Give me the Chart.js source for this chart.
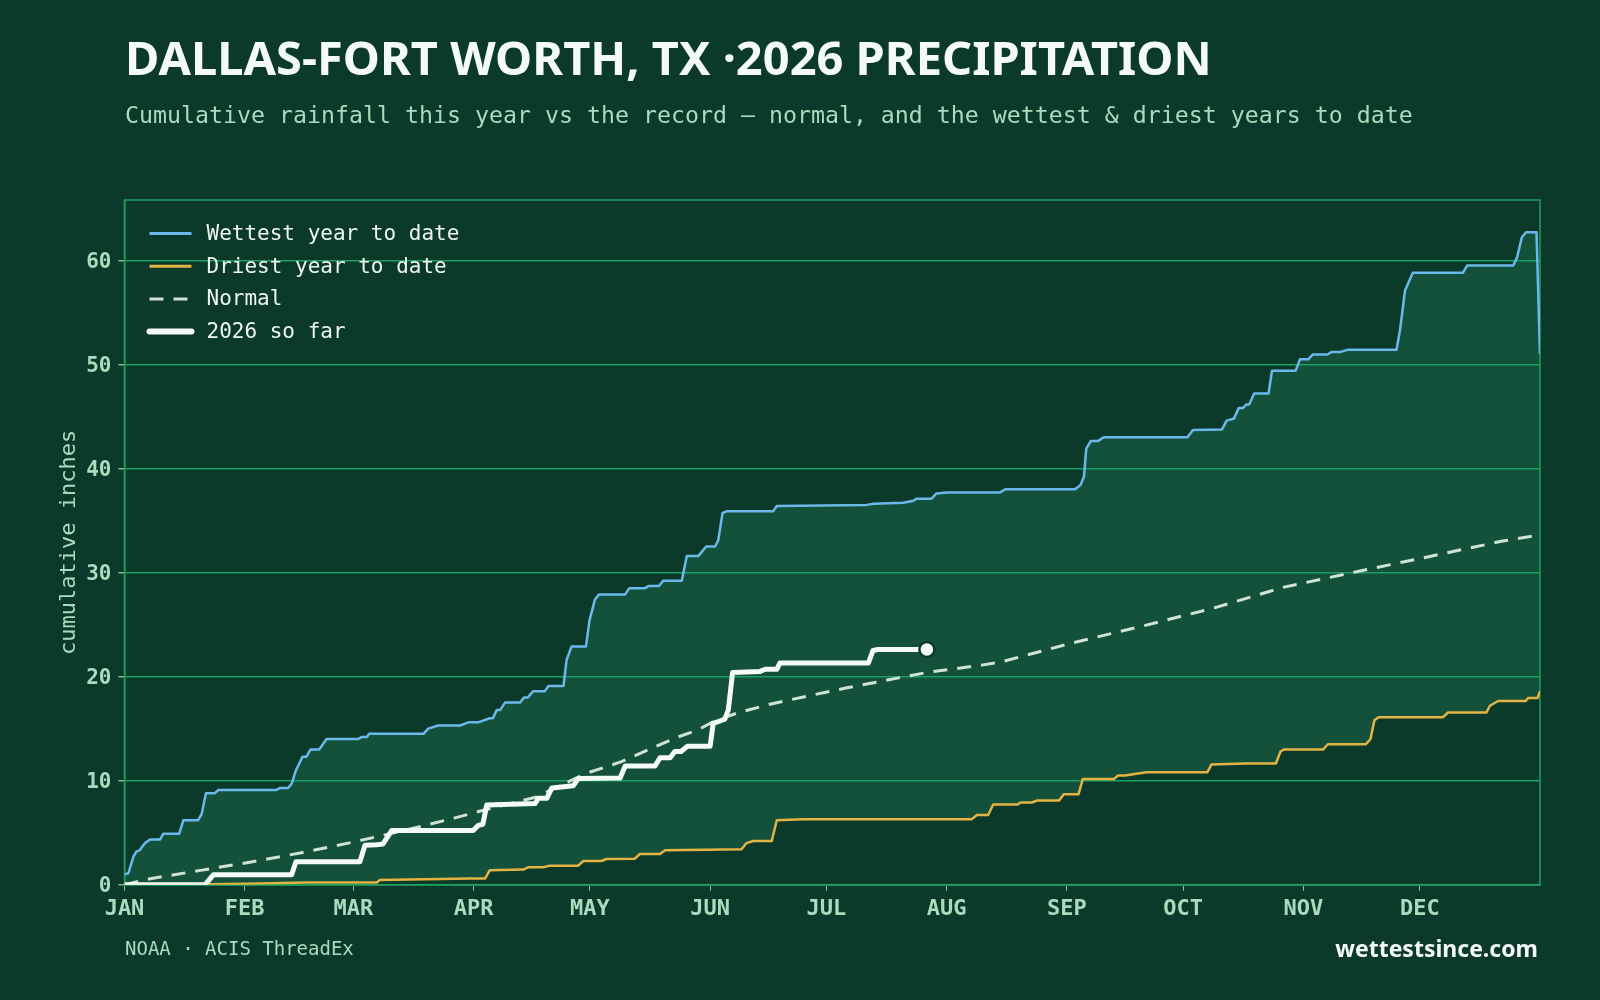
<!DOCTYPE html>
<html>
<head>
<meta charset="utf-8">
<script src="https://cdn.jsdelivr.net/npm/chart.js@4.4.1/dist/chart.umd.min.js"></script>
<style>
  html, body { margin: 0; padding: 0; background: #0c3a2a; }
  #wrap { position: relative; width: 1600px; height: 1000px; overflow: hidden; background: #0c3a2a; }
  #chart { position: absolute; left: 0; top: 0; }
  .txt { position: absolute; white-space: nowrap; line-height: 1; margin: 0; }
  #title { left: 125px; top: 25px; font: 700 47px "Noto Sans", sans-serif; color: #f4fbf6; }
  #subtitle { left: 125px; top: 101px; font: 400 23.25px "DejaVu Sans Mono", monospace; color: #a8dcbe; }
  #source { left: 125px; top: 937px; font: 400 19px "DejaVu Sans Mono", monospace; color: #a8dcbe; }
  #brand { right: 62px; top: 932px; font: 700 23px "Noto Sans", sans-serif; color: #f4fbf6; }
</style>
</head>
<body>
<div id="wrap">
  <canvas id="chart" width="1600" height="1000"></canvas>
  <div class="txt" id="title">DALLAS-FORT WORTH, TX ·2026 PRECIPITATION</div>
  <div class="txt" id="subtitle">Cumulative rainfall this year vs the record — normal, and the wettest &amp; driest years to date</div>
  <div class="txt" id="source">NOAA · ACIS ThreadEx</div>
  <div class="txt" id="brand">wettestsince.com</div>
</div>
<script>
// day of year (0 = Jan 1) where each month starts
const monthDays = [0, 31, 59, 90, 120, 151, 181, 212, 243, 273, 304, 334];
const monthNames = ["JAN", "FEB", "MAR", "APR", "MAY", "JUN", "JUL", "AUG", "SEP", "OCT", "NOV", "DEC"];
const yTicks = [0, 10, 20, 30, 40, 50, 60];

// wettest year to date (inches), line vertices
const wettestDay = [0, 1, 2.3, 3.1, 3.9, 5.3, 6.6, 9.2, 10, 14.1, 15.2, 19, 19.9, 21, 23.3, 24.2, 39.2, 40.1, 42.2, 43.1,
  44.1, 45.9, 46.9, 48, 50.2, 52.1, 60.3, 61.2, 62.5, 63.1, 77.1, 78.3, 80.9, 86.5, 88.7, 91.2, 94.2, 95, 96, 96.9,
  98.1, 102, 103, 104, 105.4, 108.4, 109.3, 113.2, 114, 115.3, 119, 119.9, 121.3, 122.4, 129.1, 130.2, 134.2, 135.1, 137.8, 138.9,
  143.7, 145, 148, 150, 152.3, 153.1, 154.2, 155.3, 167.3, 168.2, 191.4, 193.1, 200.8, 203.4, 204.3, 208.1, 209.4, 212, 225.8, 227.1,
  245.1, 246.5, 247.4, 248, 249.2, 251.1, 252.5, 274.1, 275.5, 283, 284.2, 286.1, 287.3, 288.4, 289.3, 290, 291.3, 295, 295.9, 302,
  303.1, 305.3, 306.4, 310.2, 311.3, 313.6, 315.3, 328, 328.9, 330.2, 332.2, 345.1, 346.2, 358.1, 359.1, 360.3, 361.4, 364.1, 365];
const wettestIn = [1.0, 1.1, 2.7, 3.2, 3.3, 4.0, 4.35, 4.35, 4.9, 4.9, 6.2, 6.2, 6.8, 8.8, 8.8, 9.1, 9.1, 9.3, 9.3, 9.7,
  10.9, 12.3, 12.3, 13.0, 13.0, 14.0, 14.0, 14.2, 14.2, 14.5, 14.5, 15.0, 15.3, 15.3, 15.6, 15.6, 16.0, 16.0, 16.8, 16.8,
  17.5, 17.5, 18.0, 18.0, 18.6, 18.6, 19.1, 19.1, 21.6, 22.9, 22.9, 25.4, 27.4, 27.9, 27.9, 28.5, 28.5, 28.7, 28.7, 29.2,
  29.2, 31.6, 31.6, 32.5, 32.5, 33.1, 35.7, 35.9, 35.9, 36.4, 36.5, 36.6, 36.7, 36.9, 37.1, 37.1, 37.6, 37.7, 37.7, 38.0,
  38.0, 38.4, 39.2, 41.9, 42.65, 42.65, 43.0, 43.0, 43.7, 43.75, 44.6, 44.8, 45.8, 45.8, 46.15, 46.15, 47.2, 47.2, 49.4, 49.4,
  50.5, 50.5, 50.95, 50.95, 51.2, 51.2, 51.4, 51.4, 53.3, 57.1, 58.8, 58.8, 59.5, 59.5, 60.3, 62.2, 62.7, 62.7, 51.0];

// driest year to date
const driestDay = [0, 21.5, 31.5, 47, 65, 65.9, 89, 93, 94.2, 102.8, 104.1, 108, 109.7, 117, 118.3, 123, 124.3, 131.6, 132.9, 138.1,
  139.4, 150, 159.1, 160.4, 162.1, 166.9, 168.2, 175, 218.5, 219.8, 222.7, 224, 230.2, 231.1, 234, 235.4, 241, 242.2, 246, 247.1,
  255.1, 256.2, 258, 263.5, 279.2, 280.3, 289, 296.9, 298.1, 299, 309.1, 310.3, 320.1, 321.3, 322.3, 323.4, 340, 341.3, 351.2, 352.1,
  354.2, 361.3, 362, 364.4, 365];
const driestIn = [0, 0.05, 0.1, 0.2, 0.2, 0.45, 0.6, 0.6, 1.4, 1.45, 1.67, 1.67, 1.83, 1.83, 2.28, 2.28, 2.47, 2.5, 2.95, 2.95,
  3.3, 3.35, 3.4, 4.0, 4.2, 4.2, 6.2, 6.3, 6.3, 6.7, 6.7, 7.7, 7.7, 7.9, 7.9, 8.1, 8.1, 8.7, 8.7, 10.15,
  10.15, 10.5, 10.5, 10.8, 10.8, 11.55, 11.65, 11.65, 12.8, 13.0, 13.0, 13.5, 13.5, 14.0, 15.8, 16.1, 16.1, 16.55, 16.55, 17.2,
  17.65, 17.65, 17.95, 17.95, 18.6];

// 30-year normal
const normalDay = [0, 7, 20, 33, 46, 59, 72, 85, 93, 106, 119, 128, 142, 148, 152, 158, 166, 172, 186, 200,
  207, 221, 226, 244, 263, 281, 299, 318, 336, 355, 363];
const normalIn = [0, 0.6, 1.4, 2.2, 3.1, 4.1, 5.2, 6.4, 7.2, 8.4, 10.7, 11.8, 14.1, 14.9, 15.7, 16.5, 17.3, 17.8, 18.9, 19.9,
  20.4, 21.1, 21.4, 23.2, 24.9, 26.6, 28.6, 30.1, 31.5, 33.0, 33.5];

// 2026 so far
const ytdDay = [0, 20.8, 22.9, 43.1, 44.2, 60.7, 62, 65, 66.6, 68.9, 89.9, 91.2, 92.4, 93.4, 105.9, 106.7, 108.9, 110.2, 115.7, 117,
  127.8, 129.1, 136.8, 138.1, 140.7, 141.9, 143.5, 145.1, 151, 151.8, 154.8, 155.7, 156.8, 163.9, 165.2, 168.2, 169, 191.8, 193, 194.3,
  206.9];
const ytdIn = [0, 0, 0.95, 0.95, 2.2, 2.2, 3.8, 3.85, 3.9, 5.2, 5.2, 5.7, 5.8, 7.65, 7.8, 8.3, 8.3, 9.3, 9.5, 10.2,
  10.25, 11.4, 11.4, 12.2, 12.2, 12.8, 12.8, 13.3, 13.3, 15.5, 15.9, 16.8, 20.4, 20.5, 20.7, 20.7, 21.3, 21.3, 22.5, 22.6,
  22.6];

const BG = "#0c3a2a";
const GRID = "#1f9e62";
const TICK_TXT = "#a8dcbe";
const MONO = '"DejaVu Sans Mono", monospace';

const pts = (days, vals) => days.map((d, i) => ({ x: d, y: vals[i] }));

// legend drawn inside the plot, top-left
const insideLegend = {
    id: "insideLegend",
    afterDatasetsDraw(chart) {
        const ctx = chart.ctx;
        const x0 = chart.chartArea.left + 25;
        const y0 = chart.chartArea.top + 33.5;
        chart.data.datasets.forEach((ds, i) => {
            const y = y0 + i * 32.7;
            ctx.save();
            ctx.strokeStyle = ds.borderColor;
            ctx.lineWidth = ds.legendWidth;
            ctx.setLineDash(ds.borderDash || []);
            ctx.lineCap = ds.legendCap || "butt";
            ctx.beginPath();
            ctx.moveTo(x0, y);
            ctx.lineTo(x0 + 42, y);
            ctx.stroke();
            ctx.fillStyle = "#eef6f0";
            ctx.font = "21px " + MONO;
            ctx.textBaseline = "middle";
            ctx.fillText(ds.label, x0 + 57, y + 1);
            ctx.restore();
        });
    },
};

// top and right edges of the plot frame
const frame = {
    id: "frame",
    beforeDatasetsDraw(chart) {
        const { ctx, chartArea: a } = chart;
        ctx.save();
        ctx.strokeStyle = GRID;
        ctx.lineWidth = 1.5;
        ctx.strokeRect(a.left, a.top, a.right - a.left, a.bottom - a.top);
        ctx.restore();
    },
};

const lastYtd = ytdDay.length - 1;

new Chart(document.getElementById("chart"), {
    type: "line",
    data: {
        datasets: [
            {
                label: "Wettest year to date",
                data: pts(wettestDay, wettestIn),
                borderColor: "#6db8ea",
                borderWidth: 2.5,
                legendWidth: 3,
                backgroundColor: "#13513b",
                fill: 1,
                order: 4,
            },
            {
                label: "Driest year to date",
                data: pts(driestDay, driestIn),
                borderColor: "#e3b443",
                borderWidth: 2.5,
                legendWidth: 3,
                fill: false,
                order: 3,
            },
            {
                label: "Normal",
                data: pts(normalDay, normalIn),
                borderColor: "#cfe3d6",
                borderWidth: 3,
                legendWidth: 3,
                borderDash: [14, 10],
                fill: false,
                order: 2,
            },
            {
                label: "2026 so far",
                data: pts(ytdDay, ytdIn),
                borderColor: "#f4fbf6",
                borderWidth: 5,
                legendWidth: 6,
                legendCap: "round",
                fill: false,
                order: 1,
                pointRadius: (c) => (c.dataIndex === lastYtd ? 7.5 : 0),
                pointBackgroundColor: "#f4fbf6",
                pointBorderColor: BG,
                pointBorderWidth: 2.5,
            },
        ],
    },
    options: {
        responsive: false,
        animation: false,
        events: [],
        layout: { padding: { left: 0, top: 200, right: 60, bottom: 0 } },
        elements: {
            line: { tension: 0, borderJoinStyle: "round" },
            point: { radius: 0, hoverRadius: 0 },
        },
        plugins: {
            legend: { display: false },
            tooltip: { enabled: false },
            filler: { drawTime: "beforeDraw" },
        },
        scales: {
            x: {
                type: "linear",
                min: 0,
                max: 365,
                afterBuildTicks: (s) => {
                    s.ticks = monthDays.map((v) => ({ value: v }));
                },
                afterFit: (s) => {
                    s.height = 115.3;
                },
                ticks: {
                    callback: (v) => monthNames[monthDays.indexOf(v)],
                    color: TICK_TXT,
                    font: { family: MONO, size: 22, weight: "bold" },
                    padding: 5,
                    maxRotation: 0,
                    autoSkip: false,
                },
                grid: { drawOnChartArea: false, tickLength: 6, tickColor: "#8fb8a0" },
                border: { color: GRID, width: 1.5 },
            },
            y: {
                min: 0,
                max: 65.8,
                afterBuildTicks: (s) => {
                    s.ticks = yTicks.map((v) => ({ value: v }));
                },
                afterFit: (s) => {
                    s.width = 124.5;
                },
                ticks: {
                    color: TICK_TXT,
                    font: { family: MONO, size: 21, weight: "bold" },
                    padding: 7,
                    labelOffset: 2,
                },
                grid: { color: GRID, lineWidth: 1.5, tickLength: 6, tickColor: "#8fb8a0" },
                border: { color: GRID, width: 1.5 },
                title: {
                    display: true,
                    text: "cumulative inches",
                    color: TICK_TXT,
                    font: { family: MONO, size: 22 },
                    padding: { top: 56, bottom: 0 },
                },
            },
        },
    },
    plugins: [frame, insideLegend],
});
</script>
</body>
</html>
